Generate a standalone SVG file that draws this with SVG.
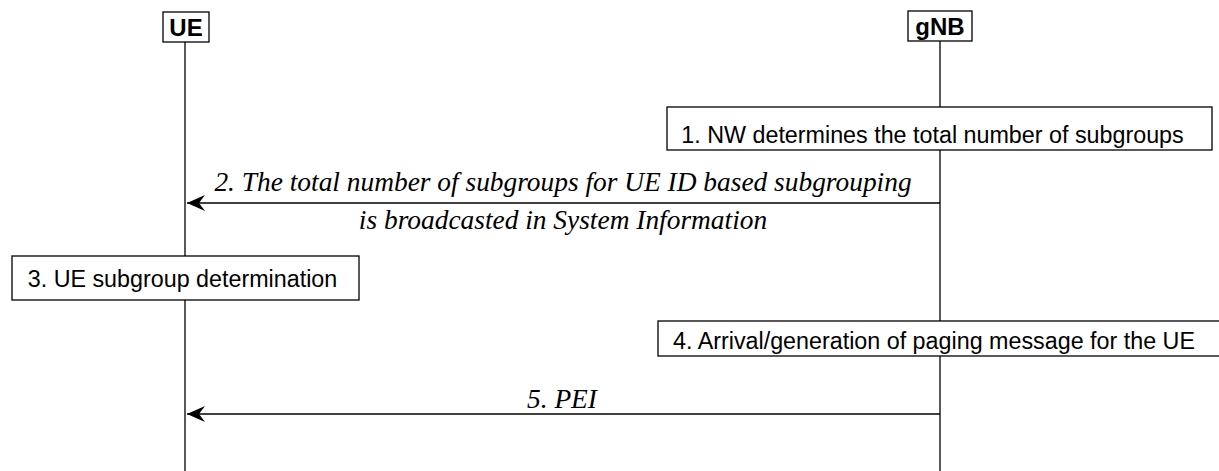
<svg xmlns="http://www.w3.org/2000/svg" width="1219" height="471" viewBox="0 0 1219 471">
<style>
.box{fill:#fff;stroke:#000;stroke-width:1.3}
.life{stroke:#000;stroke-width:1.3}
.msg{stroke:#000;stroke-width:1.3;fill:none}
.ent{font-family:"Liberation Sans",Arial,sans-serif;font-weight:bold;font-size:24px;text-anchor:middle}
.act{font-family:"Liberation Sans",Arial,sans-serif;font-size:23.3px;text-anchor:middle}
.lbl{font-family:"Liberation Serif","Times New Roman",serif;font-style:italic;font-size:27.4px;text-anchor:middle}
</style>
<defs>
<marker id="ah" markerUnits="userSpaceOnUse" markerWidth="20" markerHeight="20" refX="19" refY="8" orient="auto">
<path d="M19,8 L1,0 L7,8 L1,16 Z" fill="#000"/>
</marker>
</defs>
<g id="lifelines">
<line class="life" x1="185" y1="42" x2="185" y2="471"/>
<line class="life" x1="940" y1="41" x2="940" y2="471"/>
</g>
<g id="UE">
<rect class="box" x="163" y="12" width="46" height="30"/>
<text class="ent" x="186" y="35.5">UE</text>
</g>
<g id="gNB">
<rect class="box" x="908" y="11" width="64" height="30"/>
<text class="ent" x="940" y="34.5">gNB</text>
</g>
<g id="step1">
<rect class="box" x="667" y="107" width="545" height="43"/>
<text class="act" x="932.5" y="143">1. NW determines the total number of subgroups</text>
</g>
<g id="step3">
<rect class="box" x="12" y="256" width="347" height="44"/>
<text class="act" x="182.5" y="286.5">3. UE subgroup determination</text>
</g>
<g id="step4">
<rect class="box" x="658" y="321" width="565" height="35"/>
<text class="act" x="934" y="349">4. Arrival/generation of paging message for the UE</text>
</g>
<g id="connectors">
<line class="msg" x1="940" y1="203" x2="187" y2="203" marker-end="url(#ah)"/>
<text class="lbl" x="563" y="191">2. The total number of subgroups for UE ID based subgrouping</text>
<text class="lbl" x="563" y="229">is broadcasted in System Information</text>
<line class="msg" x1="940" y1="414" x2="187" y2="414" marker-end="url(#ah)"/>
<text class="lbl" x="562" y="408">5. PEI</text>
</g>
</svg>
